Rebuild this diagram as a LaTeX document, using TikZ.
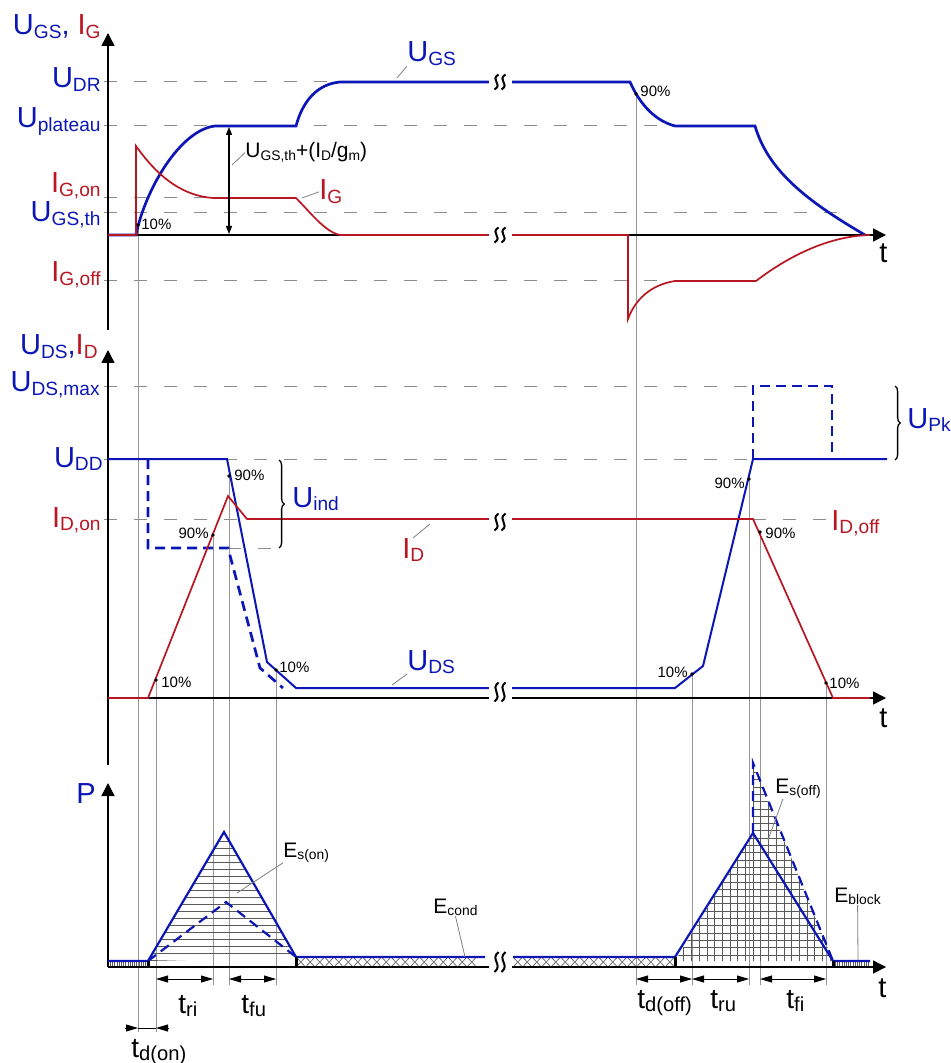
\documentclass[tikz,border=0pt]{standalone}
\usepackage{fontspec}
\setmainfont{Liberation Sans}
\usepackage{graphicx}
\usetikzlibrary{arrows.meta,decorations.pathreplacing,calc}

\definecolor{ublue}{RGB}{12,22,182}
\definecolor{ired}{RGB}{186,22,34}
\definecolor{guidegray}{RGB}{140,140,140}
\definecolor{tgray}{RGB}{150,150,150}

% subscript in text
\newcommand{\sbs}[2][0.66]{\raisebox{-0.12em}{\scalebox{#1}{#2}}}
% break mark: x, y, half height
\newcommand{\brkmark}[3]{%
  \foreach \dx in {-3.5,3.5}{%
    \draw[brk] (#1+\dx+2,#2-#3) .. controls (#1+\dx-7,#2-0.25*#3) and (#1+\dx+7,#2+0.25*#3) .. (#1+\dx-2,#2+#3);}}

\tikzset{
  axis/.style={line width=0.75pt, -{Triangle[length=6.5pt,width=6.5pt]}},
  guide/.style={guidegray, line width=0.5pt, dash pattern=on 6.5pt off 8.5pt},
  tline/.style={tgray, line width=0.45pt},
  ugs/.style={ublue, line width=1.35pt},
  uds/.style={ublue, line width=1pt},
  udash/.style={ublue, line width=1.35pt, dash pattern=on 5pt off 3pt},
  icur/.style={ired, line width=0.85pt},
  pw/.style={ublue, line width=1.1pt},
  hatch/.style={black!65, line width=0.3pt},
  leader/.style={gray, line width=0.4pt},
  dim/.style={line width=0.45pt, {Triangle[length=6pt,width=3.5pt]}-{Triangle[length=6pt,width=3.5pt]}},
  dimin/.style={line width=0.45pt, -{Triangle[length=6pt,width=3.5pt]}},
  darr/.style={line width=0.6pt, {Triangle[length=4pt,width=3pt]}-{Triangle[length=4pt,width=3pt]}},
  brace/.style={decorate, decoration={brace, amplitude=2.6pt}, line width=0.65pt},
  brk/.style={line width=1pt, black},
  tick/.style={line width=1.5pt, black},
  big/.style={font=\fontsize{14.5}{16}\selectfont, inner sep=0pt},
  mid/.style={font=\fontsize{10.5}{12}\selectfont, inner sep=0pt},
  tlab/.style={font=\fontsize{14}{16}\selectfont, inner sep=0pt},
  pct/.style={font=\fontsize{7.5}{9}\selectfont, inner sep=0pt},
}

\begin{document}
\begin{tikzpicture}[x=0.5pt, y=-0.5pt]
    \useasboundingbox (0,0) rectangle (950,1063);

    % guide levels
    \draw[guide] (104,82) -- (340,82);
    \draw[guide] (104,126) -- (675,126);
    \draw[guide] (104,198) -- (213,198);
    \draw[guide] (104,213) -- (850,213);
    \draw[guide] (104,281) -- (677,281);
    \draw[guide] (104,386) -- (753,386);
    \draw[guide] (104,459) -- (753,459);
    \draw[guide] (104,519) -- (247,519);
    \draw[guide] (228,548) -- (280,548);
    \draw[guide] (753,519) -- (830,519);

    % time marks
    \foreach \mx/\my/\mb [count=\i] in {138/225/1032, 156/680/1032, 213/535/985,
        229/476/985, 276/670/985, 636/94/985, 692/674/985, 749/479/985,
        760/532/985, 826/683/985}{
      \coordinate (m\i) at (\mx,\my);
      \draw[tline] (m\i) -- (\mx,\mb);
    }

    % E_s(on) hatch
    \begin{scope}
      \clip (148,961) -- (224,832) -- (296,957) -- cycle;
      \foreach \y in {834,841,...,961} \draw[hatch] (140,\y) -- (300,\y);
    \end{scope}

    % E_s(off) hatch
    \begin{scope}
      \clip (675,961) -- (753,833) -- (753,763) -- (833,961) -- cycle;
      \foreach \y in {765,772.3,...,961} \draw[hatch] (670,\y) -- (840,\y);
      \foreach \x in {676,683.7,...,833} \draw[hatch] (\x,760) -- (\x,965);
    \end{scope}

    % E_cond hatch
    \foreach \x in {296,305.5,...,476}
      \draw[hatch] (\x,957) -- (\x+9.5,967) (\x+9.5,957) -- (\x,967);
    \foreach \x in {513,522.5,...,666}
      \draw[hatch] (\x,957) -- (\x+9.5,967) (\x+9.5,957) -- (\x,967);
    \draw[hatch] (296,967) -- (485,967) (513,967) -- (675,967);

    % E_block hatch
    \foreach \x in {108,110.2,...,147} \draw[hatch] (\x,961) -- (\x,967);
    \foreach \x in {833,835.2,...,870} \draw[hatch] (\x,961) -- (\x,967);

    % axes
    \draw[axis] (108,330) -- (108,33);
    \draw[axis] (108,235) -- (886,235);
    \draw[axis] (108,765) -- (108,350);
    \draw[axis] (108,698) -- (886,698);
    \draw[axis] (108,967) -- (108,783);
    \draw[axis] (108,967) -- (886,967);

    % U_GS
    \draw[ugs] (108,235) -- (136,235) .. controls (145,190) and (180,130) .. (215,126)
      -- (296,126) .. controls (303,100) and (318,84) .. (340,82) -- (490,82);
    \draw[ugs] (512,82) -- (630,82) .. controls (638,100) and (652,120) .. (675,126)
      -- (755,126) .. controls (768,170) and (805,200) .. (865,235);

    % I_G
    \draw[icur] (108,235) -- (136,235) -- (136,146) .. controls (160,180) and (185,196) .. (213,198)
      -- (296,198) .. controls (310,212) and (325,232) .. (340,235) -- (490,235);
    \draw[icur] (512,235) -- (628,235) -- (628,319) .. controls (635,300) and (650,285) .. (675,281)
      -- (756,281) .. controls (790,255) and (830,236) .. (870,235);

    % U_DS
    \draw[uds] (108,459) -- (227,459) -- (267,662) -- (296,688) -- (490,688);
    \draw[uds] (512,688) -- (675,688) -- (703,666) -- (753,459) -- (887,459);
    \draw[udash] (148,459) -- (148,548) -- (228,548) -- (260,668) -- (283,688);
    \draw[udash] (753,459) -- (753,386) -- (832,386) -- (832,459);

    % I_D
    \draw[icur] (108,698) -- (148,698) -- (228,496) -- (247,519) -- (490,519);
    \draw[icur] (512,519) -- (753,519) -- (833,698) -- (870,698);

    % P
    \draw[pw] (108,961) -- (148,961) -- (224,832) -- (296,957) -- (485,957);
    \draw[pw] (513,957) -- (675,957) -- (753,833) -- (833,961) -- (870,961);
    \draw[pw, dash pattern=on 5pt off 3pt] (148,961) -- (226,902) -- (296,957);
    \draw[pw, dash pattern=on 5pt off 3pt] (753,833) -- (753,763) -- (833,961);
    \foreach \x/\y in {148/961, 296/957, 675/957, 833/961} \draw[tick] (\x,\y) -- (\x,967);

    % breaks
    \fill[white] (489,72) rectangle (512,92);
    \fill[white] (489,225) rectangle (512,245);
    \fill[white] (489,509) rectangle (512,529);
    \fill[white] (489,680) rectangle (512,706);
    \fill[white] (489,950) rectangle (512,975);
    \brkmark{500}{82}{7.5}
    \brkmark{500}{235}{7.5}
    \brkmark{500}{522}{8.5}
    \brkmark{500}{692}{9.5}
    \brkmark{500}{962}{10}

    % marks
    \foreach \i in {1,...,10} \fill (m\i) circle (0.9pt);
    \node[pct, anchor=base west] (p1) at (141,230) {10\%};
    \node[pct, anchor=base west] (p2) at (161,687) {10\%};
    \node[pct, anchor=base east] (p3) at (209,538) {90\%};
    \node[pct, anchor=base west] (p4) at (234,480) {90\%};
    \node[pct, anchor=base west] (p5) at (279,672) {10\%};
    \node[pct, anchor=base west] (p6) at (640,97) {90\%};
    \node[pct, anchor=base east] (p7) at (688,677) {10\%};
    \node[pct, anchor=base east] (p8) at (745,488) {90\%};
    \node[pct, anchor=base west] (p9) at (765,538) {90\%};
    \node[pct, anchor=base west] (p10) at (829,688) {10\%};

    % axis labels
    \node[big, anchor=base east] (hTop) at (101,35) {\color{ublue}U\sbs{GS}, \color{ired}I\sbs{G}};
    \node[big, anchor=base east, ublue] (lUDR) at (101,88) {U\sbs{DR}};
    \node[big, anchor=base east, ublue] (lUpl) at (101,128) {U\sbs{plateau}};
    \node[big, anchor=base east, ired] (lIGon) at (101,193) {I\sbs{G,on}};
    \node[big, anchor=base east, ublue] (lUth) at (101,222) {U\sbs{GS,th}};
    \node[big, anchor=base east, ired] (lIGoff) at (101,282) {I\sbs{G,off}};
    \node[big, anchor=base east] (hMid) at (98,355) {\color{ublue}U\sbs{DS},\color{ired}I\sbs{D}};
    \node[big, anchor=base east, ublue] (lUmax) at (100,392) {U\sbs{DS,max}};
    \node[big, anchor=base east, ublue] (lUDD) at (103,467) {U\sbs{DD}};
    \node[big, anchor=base east, ired] (lIDon) at (101,527) {I\sbs{D,on}};
    \node[big, anchor=base east, ublue] (lP) at (96,803) {P};
    \node[big, anchor=base west] (tTop) at (879,263) {t};
    \node[big, anchor=base west] (tMid) at (879,727) {t};
    \node[big, anchor=base west] (tBot) at (878,997) {t};

    % curve labels
    \coordinate (ugsPt) at (397,78);
    \node[big, anchor=base west, ublue] (lUGS) at (407,62) {U\sbs{GS}};
    \draw[leader] (ugsPt) -- (lUGS.south west);
    \coordinate (igPt) at (302,198);
    \node[big, anchor=base west, ired] (lIG) at (319,200) {I\sbs{G}};
    \draw[leader] (igPt) -- (lIG.west);
    \coordinate (platTop) at (229,127);
    \coordinate (platBot) at (229,234);
    \draw[darr] (platTop) -- (platBot);
    \coordinate (platPt) at (232,165);
    \node[mid, anchor=base west] (lPlat) at (245,158) {U\sbs{GS,th}+(I\sbs{D}/g\sbs{m})};
    \draw[leader] (platPt) -- (lPlat.west);

    \coordinate (uindTop) at (279,460);
    \coordinate (uindBot) at (279,548);
    \draw[brace] (uindTop) -- (uindBot);
    \node[big, anchor=base west, ublue] (lUind) at (292,507) {U\sbs{ind}};
    \coordinate (idPt) at (430,524);
    \node[big, anchor=base west, ired] (lID) at (402,558) {I\sbs{D}};
    \draw[leader] (lID.north) -- (idPt);
    \coordinate (udsPt) at (392,685);
    \node[big, anchor=base west, ublue] (lUDS) at (407,670) {U\sbs{DS}};
    \draw[leader] (udsPt) -- (lUDS.south west);
    \coordinate (upkTop) at (895,386);
    \coordinate (upkBot) at (895,460);
    \draw[brace] (upkTop) -- (upkBot);
    \node[big, anchor=base west, ublue] (lUPk) at (907,428) {U\sbs{Pk}};
    \node[big, anchor=base west, ired] (lIDoff) at (831,530) {I\sbs{D,off}};

    % energy labels
    \coordinate (eonPt) at (237,893);
    \node[mid, anchor=base west] (lEon) at (283,857) {E\sbs{s(on)}};
    \draw[leader] (eonPt) -- (lEon.south west);
    \coordinate (econdPt) at (465,957);
    \node[mid, anchor=base west] (lEcond) at (433,913) {E\sbs{cond}};
    \draw[leader] (lEcond.south) -- (econdPt);
    \coordinate (eoffPt) at (768,840);
    \node[mid, anchor=base west] (lEoff) at (775,793) {E\sbs{s(off)}};
    \draw[leader] (eoffPt) -- ([xshift=4pt]lEoff.south west);
    \coordinate (eblkPt) at (858,960);
    \node[mid, anchor=base west] (lEblk) at (834,902) {E\sbs{block}};
    \draw[leader] (lEblk.south) -- (eblkPt);

    % switching times
    \coordinate (dimA) at (0,979);
    \coordinate (dimB) at (0,1028);
    \draw[dim] (m2 |- dimA) -- (m3 |- dimA);
    \draw[dim] (m4 |- dimA) -- (m5 |- dimA);
    \draw[dim] (m6 |- dimA) -- (m7 |- dimA);
    \draw[dim] (m7 |- dimA) -- (m8 |- dimA);
    \draw[dim] (m9 |- dimA) -- (m10 |- dimA);
    \draw[dimin] ($(m1 |- dimB)+(-13,0)$) -- (m1 |- dimB);
    \draw[dimin] ($(m2 |- dimB)+(13,0)$) -- (m2 |- dimB);
    \draw[line width=0.45pt] (m1 |- dimB) -- (m2 |- dimB);
    \node[tlab, anchor=base west] (tdon) at (131,1057) {t\sbs[0.72]{d(on)}};
    \node[tlab, anchor=base west] (tri) at (178,1013) {t\sbs[0.72]{ri}};
    \node[tlab, anchor=base west] (tfu) at (241,1013) {t\sbs[0.72]{fu}};
    \node[tlab, anchor=base west] (tdoff) at (637,1008) {t\sbs[0.72]{d(off)}};
    \node[tlab, anchor=base west] (tru) at (710,1008) {t\sbs[0.72]{ru}};
    \node[tlab, anchor=base west] (tfi) at (786,1008) {t\sbs[0.72]{fi}};

\end{tikzpicture}
\end{document}
